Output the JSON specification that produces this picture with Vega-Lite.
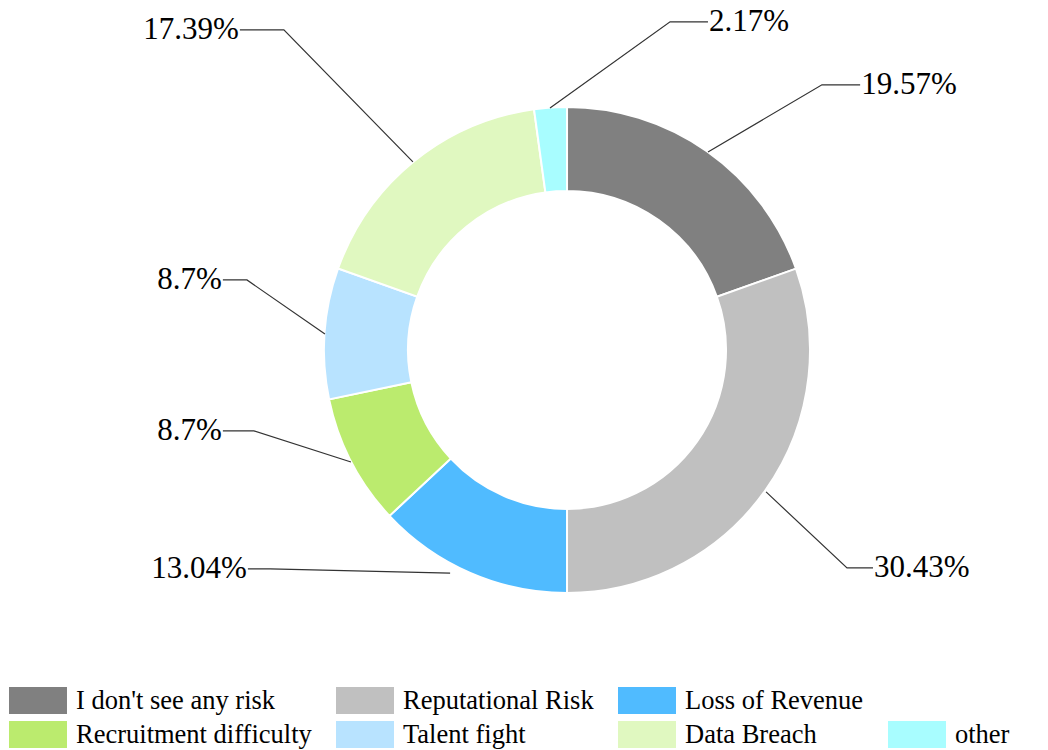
{
  "$schema": "https://vega.github.io/schema/vega-lite/v6.json",
  "width": 1048,
  "height": 750,
  "padding": 0,
  "autosize": {"type": "none"},
  "background": "white",
  "config": {"view": {"stroke": null}},
  "datasets": {
    "slices": [
      {"idx": 1, "category": "I don't see any risk", "value": 19.57},
      {"idx": 2, "category": "Reputational Risk", "value": 30.43},
      {"idx": 3, "category": "Loss of Revenue", "value": 13.04},
      {"idx": 4, "category": "Recruitment difficulty", "value": 8.7},
      {"idx": 5, "category": "Talent fight", "value": 8.7},
      {"idx": 6, "category": "Data Breach", "value": 17.39},
      {"idx": 7, "category": "other", "value": 2.17}
    ],
    "leaders": [
      {"category": "I don't see any risk", "step": 1, "x": 58.0, "y": 81.5},
      {"category": "I don't see any risk", "step": 2, "x": 104.9, "y": 109.1},
      {"category": "I don't see any risk", "step": 3, "x": 120.6, "y": 109.1},
      {"category": "other", "step": 1, "x": -7.0, "y": 99.6},
      {"category": "other", "step": 2, "x": 42.4, "y": 135.0},
      {"category": "other", "step": 3, "x": 58.0, "y": 135.0},
      {"category": "Data Breach", "step": 1, "x": -63.4, "y": 77.4},
      {"category": "Data Breach", "step": 2, "x": -116.5, "y": 131.7},
      {"category": "Data Breach", "step": 3, "x": -134.6, "y": 131.7},
      {"category": "Talent fight", "step": 1, "x": -99.6, "y": 6.6},
      {"category": "Talent fight", "step": 2, "x": -131.7, "y": 28.8},
      {"category": "Talent fight", "step": 3, "x": -141.6, "y": 28.8},
      {"category": "Recruitment difficulty", "step": 1, "x": -88.9, "y": -46.1},
      {"category": "Recruitment difficulty", "step": 2, "x": -128.8, "y": -33.3},
      {"category": "Recruitment difficulty", "step": 3, "x": -141.6, "y": -33.3},
      {"category": "Loss of Revenue", "step": 1, "x": -48.1, "y": -91.8},
      {"category": "Loss of Revenue", "step": 2, "x": -122.2, "y": -90.1},
      {"category": "Loss of Revenue", "step": 3, "x": -131.3, "y": -90.1},
      {"category": "Reputational Risk", "step": 1, "x": 81.9, "y": -58.4},
      {"category": "Reputational Risk", "step": 2, "x": 115.2, "y": -89.7},
      {"category": "Reputational Risk", "step": 3, "x": 125.9, "y": -89.7}
    ],
    "labels": [
      {"label": "19.57%", "side": "right", "x": 120.6, "y": 109.1},
      {"label": "2.17%", "side": "right", "x": 58.0, "y": 135.0},
      {"label": "17.39%", "side": "left", "x": -134.6, "y": 131.7},
      {"label": "8.7%", "side": "left", "x": -141.6, "y": 28.8},
      {"label": "8.7%", "side": "left", "x": -141.6, "y": -33.3},
      {"label": "13.04%", "side": "left", "x": -131.3, "y": -90.1},
      {"label": "30.43%", "side": "right", "x": 125.9, "y": -89.7}
    ]
  },
  "layer": [
    {
      "data": {"name": "slices"},
      "mark": {"type": "arc", "outerRadius": 243, "innerRadius": 159, "stroke": "white", "strokeWidth": 2},
      "encoding": {
        "x": {"datum": 0, "type": "quantitative", "scale": {"domain": [-233.3, 197.9], "nice": false, "zero": false}, "axis": null},
        "y": {"datum": 0, "type": "quantitative", "scale": {"domain": [-164.6, 144.0], "nice": false, "zero": false}, "axis": null},
        "theta": {"field": "value", "type": "quantitative", "stack": true},
        "order": {"field": "idx", "type": "quantitative"},
        "color": {
          "field": "category",
          "type": "nominal",
          "scale": {
            "domain": ["I don't see any risk", "Reputational Risk", "Loss of Revenue", " ", "Recruitment difficulty", "Talent fight", "Data Breach", "other"],
            "range": ["#808080", "#c0c0c0", "#50bbff", "#ffffff", "#bbeb6e", "#b8e3ff", "#e0f8c0", "#a8fdff"]
          },
          "legend": {
            "orient": "none",
            "direction": "horizontal",
            "legendX": 9,
            "legendY": 687,
            "columns": 4,
            "title": null,
            "labelFont": "Liberation Serif",
            "labelFontSize": 26.5,
            "labelColor": "black",
            "labelLimit": 500,
            "labelExpr": "datum.value === 'Loss of Revenue' ? 'Loss of Revenue\u2003' : datum.label",
            "symbolType": "M-1,-1H3.296V1H-1Z",
            "symbolSize": 729,
            "symbolStrokeWidth": 0,
            "symbolOpacity": 1,
            "labelOffset": 40,
            "columnPadding": 24,
            "rowPadding": 7,
            "padding": 0
          }
        }
      }
    },
    {
      "data": {"name": "leaders"},
      "mark": {"type": "line", "color": "#333333", "strokeWidth": 1.2},
      "encoding": {
        "x": {"field": "x", "type": "quantitative", "scale": {"domain": [-233.3, 197.9], "nice": false, "zero": false}, "axis": null},
        "y": {"field": "y", "type": "quantitative", "scale": {"domain": [-164.6, 144.0], "nice": false, "zero": false}, "axis": null},
        "detail": {"field": "category", "type": "nominal"},
        "order": {"field": "step", "type": "quantitative"}
      }
    },
    {
      "data": {"name": "labels"},
      "transform": [{"filter": "datum.side === 'right'"}],
      "mark": {"type": "text", "align": "left", "baseline": "middle", "font": "Liberation Serif", "fontSize": 31, "color": "black", "dx": 1},
      "encoding": {
        "x": {"field": "x", "type": "quantitative", "scale": {"domain": [-233.3, 197.9], "nice": false, "zero": false}, "axis": null},
        "y": {"field": "y", "type": "quantitative", "scale": {"domain": [-164.6, 144.0], "nice": false, "zero": false}, "axis": null},
        "text": {"field": "label", "type": "nominal"}
      }
    },
    {
      "data": {"name": "labels"},
      "transform": [{"filter": "datum.side === 'left'"}],
      "mark": {"type": "text", "align": "right", "baseline": "middle", "font": "Liberation Serif", "fontSize": 31, "color": "black", "dx": -1},
      "encoding": {
        "x": {"field": "x", "type": "quantitative", "scale": {"domain": [-233.3, 197.9], "nice": false, "zero": false}, "axis": null},
        "y": {"field": "y", "type": "quantitative", "scale": {"domain": [-164.6, 144.0], "nice": false, "zero": false}, "axis": null},
        "text": {"field": "label", "type": "nominal"}
      }
    }
  ]
}
